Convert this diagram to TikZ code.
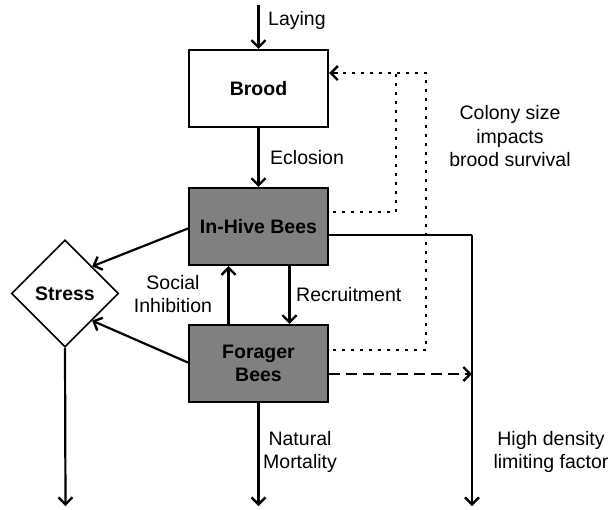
\documentclass[tikz,border=0pt]{standalone}
\usepackage{fontspec}
\setmainfont{Liberation Sans}
\usetikzlibrary{arrows.meta,shapes.geometric}
\definecolor{boxgray}{HTML}{808080}
\tikzset{
  lw/.style={line width=2.2pt},
  tip/.style={-{Straight Barb[length=7pt,width=14pt,line width=2.4pt]}},
  arr/.style={lw,tip},
  stockbox/.style={draw,lw,minimum width=139pt,minimum height=77pt,inner sep=0pt,font=\fontsize{19.5}{23.5}\selectfont\bfseries,align=center},
  graybox/.style={stockbox,fill=boxgray},
  stressnode/.style={draw,line width=1.6pt,diamond,minimum width=107pt,minimum height=107pt,inner sep=0pt,font=\fontsize{19.5}{23.5}\selectfont\bfseries},
  lbl/.style={font=\fontsize{19.5}{23.5}\selectfont,align=center,inner sep=0pt},
  dotline/.style={line width=2.6pt,dash pattern=on 2.6pt off 6.4pt},
  dashline/.style={lw,dash pattern=on 11pt off 6pt}
}
\begin{document}
\begin{tikzpicture}[x=1pt,y=-1pt]
\useasboundingbox (0,0) rectangle (610,509);
\node[stockbox] (brood) at (258.5,88.5) {Brood};
\node[graybox] (hive) at (258.5,226.5) {In-Hive Bees};
\node[graybox] (forager) at (258.5,363.5) {Forager\\Bees};
\node[stressnode] (stress) at (65,293.5) {Stress};
\coordinate (laytop) at (258.5,5);
\coordinate (stressend) at (65.5,506);
\coordinate (forend) at (258.5,506);
\coordinate (corner) at (472,235);
\coordinate (hdend) at (472,506);
\coordinate (dashend) at (472,374);
\coordinate (dotA) at (396,212);
\coordinate (dotAtop) at (396,73);
\coordinate (dotB) at (426,350);
\coordinate (dotBtop) at (426,73);
% arrows
\draw[arr] (laytop) -- (brood.north);
\draw[arr] (brood.south) -- (hive.north);
\draw[arr] ([xshift=31pt]hive.south) -- ([xshift=31pt]forager.north);
\draw[arr] ([xshift=-30pt]forager.north) -- ([xshift=-30pt]hive.south);
\draw[arr] ([yshift=-2pt]hive.west) -- (stress.north east);
\draw[arr] ([yshift=1pt]forager.west) -- (stress.south east);
\draw[arr] (stress.south) -- (stressend);
\draw[arr] (forager.south) -- (forend);
\draw[lw] ([yshift=-8.5pt]hive.east) -- (corner);
\draw[arr] (corner) -- (hdend);
\draw[dashline,tip] ([yshift=-10.5pt]forager.east) -- (dashend);
\draw[dotline] ([xshift=4pt,yshift=14.5pt]hive.east) -- (dotA) -- (dotAtop);
\draw[dotline] ([xshift=4pt,yshift=13.5pt]forager.east) -- (dotB) -- (dotBtop) -- ([xshift=12pt,yshift=15.5pt]brood.east);
\draw[lw,{Straight Barb[length=7pt,width=14pt,line width=2.4pt]}-] ([yshift=15.5pt]brood.east) -- ([xshift=9pt,yshift=15.5pt]brood.east);
% labels
\node[lbl,anchor=west] (laying) at (268,20) {Laying};
\node[lbl,anchor=west] (eclosion) at (270,158) {Eclosion};
\node[lbl,anchor=west] (recruit) at (296,295) {Recruitment};
\node[lbl] (social) at (173,294) {Social\\Inhibition};
\node[lbl] (colony) at (510,136.5) {Colony size\\impacts\\brood survival};
\node[lbl] (natural) at (300,452) {Natural\\Mortality};
\node[lbl] (highd) at (551,452) {High density\\limiting factor};
\end{tikzpicture}
\end{document}
